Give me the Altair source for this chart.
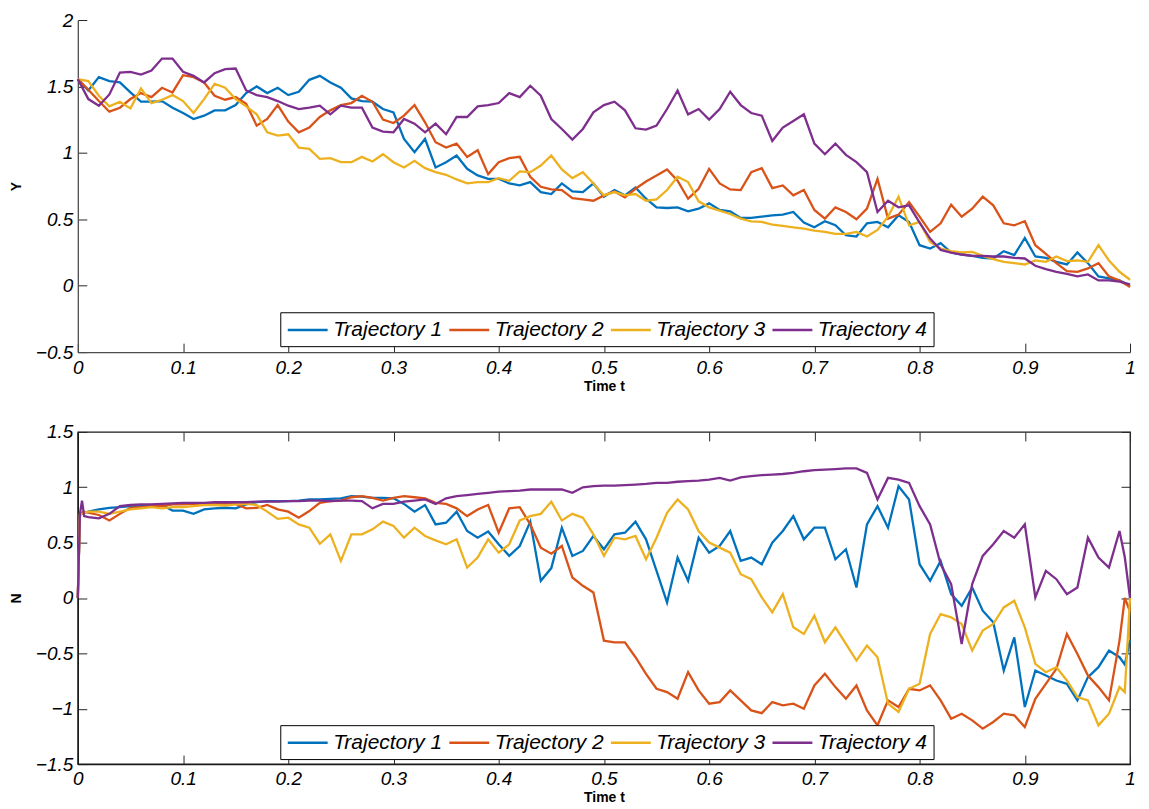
import altair as alt
import pandas as pd

NAMES = ["Trajectory 1", "Trajectory 2", "Trajectory 3", "Trajectory 4"]
COLORS = ["#0072BD", "#D95319", "#EDB120", "#7E2F8E"]
X_TICKS = [0, 0.1, 0.2, 0.3, 0.4, 0.5, 0.6, 0.7, 0.8, 0.9, 1]
Y_TICKS = [-0.5, 0, 0.5, 1, 1.5, 2]
N_TICKS = [-1.5, -1, -0.5, 0, 0.5, 1, 1.5]

# time samples (top panel)
T_TOP = [i / 100 for i in range(101)]

Y1 = [1.555, 1.47, 1.57, 1.54, 1.53, 1.455, 1.385, 1.385, 1.39, 1.34,
      1.30, 1.255, 1.28, 1.32, 1.32, 1.36, 1.45, 1.50, 1.45, 1.49,
      1.435, 1.46, 1.55, 1.58, 1.53, 1.49, 1.41, 1.39, 1.385, 1.33,
      1.305, 1.105, 1.005, 1.105, 0.89, 0.93, 0.98, 0.88, 0.83, 0.805,
      0.805, 0.77, 0.755, 0.78, 0.705, 0.69, 0.77, 0.71, 0.705, 0.77,
      0.67, 0.72, 0.68, 0.74, 0.655, 0.59, 0.585, 0.59, 0.56, 0.58,
      0.62, 0.57, 0.56, 0.51, 0.51, 0.52, 0.53, 0.535, 0.555, 0.475,
      0.44, 0.485, 0.455, 0.38, 0.37, 0.47, 0.48, 0.44, 0.53, 0.48,
      0.305, 0.28, 0.32, 0.25, 0.235, 0.225, 0.21, 0.205, 0.26, 0.23,
      0.36, 0.22, 0.21, 0.18, 0.16, 0.25, 0.17, 0.07, 0.055, 0.04,
      0.0]
Y2 = [1.555, 1.475, 1.39, 1.31, 1.34, 1.405, 1.45, 1.42, 1.49, 1.455,
      1.585, 1.57, 1.53, 1.43, 1.40, 1.42, 1.37, 1.205, 1.255, 1.36,
      1.235, 1.155, 1.19, 1.27, 1.32, 1.36, 1.375, 1.43, 1.385, 1.25,
      1.225, 1.28, 1.36, 1.23, 1.08, 1.04, 1.07, 0.97, 1.02, 0.84,
      0.93, 0.96, 0.97, 0.82, 0.745, 0.725, 0.72, 0.66, 0.65, 0.64,
      0.68, 0.71, 0.665, 0.73, 0.785, 0.83, 0.875, 0.79, 0.655, 0.73,
      0.88, 0.77, 0.725, 0.72, 0.855, 0.885, 0.735, 0.755, 0.68, 0.72,
      0.57, 0.505, 0.59, 0.555, 0.50, 0.58, 0.805, 0.505, 0.535, 0.63,
      0.52, 0.405, 0.47, 0.61, 0.52, 0.58, 0.67, 0.605, 0.47, 0.455,
      0.485, 0.305, 0.24, 0.17, 0.11, 0.105, 0.13, 0.17, 0.07, 0.04,
      -0.01]
Y3 = [1.555, 1.54, 1.43, 1.35, 1.385, 1.335, 1.485, 1.375, 1.40, 1.435,
      1.39, 1.30, 1.405, 1.52, 1.49, 1.405, 1.35, 1.29, 1.155, 1.13,
      1.14, 1.04, 1.03, 0.955, 0.96, 0.93, 0.93, 0.97, 0.935, 0.99,
      0.93, 0.89, 0.94, 0.885, 0.855, 0.835, 0.80, 0.77, 0.78, 0.78,
      0.81, 0.79, 0.86, 0.855, 0.905, 0.98, 0.875, 0.81, 0.855, 0.77,
      0.68, 0.705, 0.68, 0.69, 0.64, 0.65, 0.72, 0.82, 0.78, 0.635,
      0.59, 0.565, 0.54, 0.505, 0.485, 0.48, 0.46, 0.45, 0.44, 0.43,
      0.415, 0.405, 0.39, 0.39, 0.405, 0.37, 0.42, 0.52, 0.67, 0.455,
      0.48, 0.33, 0.28, 0.26, 0.25, 0.255, 0.225, 0.20, 0.18, 0.17,
      0.16, 0.19, 0.18, 0.22, 0.185, 0.19, 0.18, 0.305, 0.19, 0.105,
      0.045]
Y4 = [1.555, 1.405, 1.355, 1.44, 1.605, 1.61, 1.59, 1.62, 1.71, 1.71,
      1.61, 1.58, 1.53, 1.60, 1.63, 1.635, 1.47, 1.435, 1.42, 1.39,
      1.355, 1.33, 1.34, 1.355, 1.29, 1.355, 1.34, 1.34, 1.19, 1.16,
      1.155, 1.255, 1.22, 1.155, 1.22, 1.14, 1.27, 1.27, 1.35, 1.36,
      1.375, 1.45, 1.42, 1.505, 1.43, 1.255, 1.18, 1.10, 1.18, 1.305,
      1.36, 1.385, 1.32, 1.185, 1.175, 1.205, 1.33, 1.47, 1.29, 1.33,
      1.25, 1.33, 1.46, 1.36, 1.30, 1.28, 1.09, 1.19, 1.24, 1.29,
      1.07, 0.99, 1.07, 0.985, 0.93, 0.855, 0.555, 0.64, 0.59, 0.605,
      0.475, 0.355, 0.27, 0.25, 0.235, 0.225, 0.225, 0.22, 0.22, 0.21,
      0.205, 0.15, 0.125, 0.105, 0.09, 0.07, 0.085, 0.04, 0.04, 0.03,
      0.01]

# time samples (bottom panel)
T_BOT = [0, 0.002, 0.004, 0.006] + [i / 100 for i in range(1, 100)] + [0.995, 1.0]

N1 = [0, 0.75, 0.76, 0.77,
      0.78, 0.80, 0.815, 0.82, 0.83, 0.835, 0.84, 0.84, 0.79,
      0.79, 0.76, 0.80, 0.81, 0.815, 0.81, 0.845, 0.865, 0.875, 0.875,
      0.875, 0.88, 0.89, 0.89, 0.895, 0.90, 0.92, 0.915, 0.905, 0.905,
      0.90, 0.85, 0.78, 0.84, 0.665, 0.68, 0.78, 0.605, 0.545, 0.60,
      0.485, 0.38, 0.47, 0.69, 0.155, 0.27, 0.635, 0.38, 0.425, 0.56,
      0.44, 0.575, 0.59, 0.69, 0.53, 0.245, -0.04, 0.365, 0.155, 0.545,
      0.41, 0.47, 0.605, 0.335, 0.365, 0.305, 0.50, 0.605, 0.74, 0.53,
      0.635, 0.635, 0.35, 0.44, 0.095, 0.665, 0.83, 0.635, 1.01, 0.89,
      0.305, 0.155, 0.335, 0.035, -0.07, 0.095, -0.115, -0.22, -0.655, -0.355,
      -0.985, -0.655, -0.70, -0.745, -0.775, -0.925, -0.715, -0.625, -0.475, -0.535,
      -0.6, -0.385]
N2 = [0, 0.75, 0.77, 0.78,
      0.77, 0.75, 0.70, 0.76, 0.815, 0.82, 0.83, 0.83, 0.845,
      0.845, 0.85, 0.845, 0.85, 0.855, 0.85, 0.81, 0.815, 0.84, 0.80,
      0.78, 0.725, 0.785, 0.86, 0.875, 0.88, 0.91, 0.92, 0.905, 0.88,
      0.905, 0.92, 0.91, 0.90, 0.86, 0.85, 0.81, 0.74, 0.80, 0.84,
      0.59, 0.81, 0.82, 0.665, 0.455, 0.40, 0.47, 0.185, 0.11, 0.05,
      -0.385, -0.40, -0.40, -0.535, -0.685, -0.82, -0.85, -0.91, -0.67, -0.835,
      -0.955, -0.94, -0.835, -0.925, -1.015, -1.04, -0.94, -0.97, -0.955, -1.0,
      -0.79, -0.685, -0.805, -0.91, -0.79, -1.015, -1.15, -0.925, -0.985, -0.82,
      -0.835, -0.79, -0.925, -1.09, -1.045, -1.105, -1.18, -1.12, -1.045, -1.06,
      -1.165, -0.91, -0.775, -0.64, -0.325, -0.505, -0.70, -0.805, -0.925, -0.385,
      0.0, -0.12]
N3 = [0, 0.76, 0.76, 0.77,
      0.78, 0.78, 0.76, 0.78, 0.80, 0.81, 0.82, 0.81, 0.82,
      0.82, 0.83, 0.84, 0.84, 0.835, 0.845, 0.85, 0.84, 0.78, 0.715,
      0.725, 0.665, 0.635, 0.49, 0.575, 0.335, 0.575, 0.575, 0.62, 0.69,
      0.65, 0.545, 0.635, 0.56, 0.52, 0.485, 0.53, 0.275, 0.365, 0.53,
      0.41, 0.485, 0.70, 0.74, 0.76, 0.87, 0.70, 0.76, 0.725, 0.575,
      0.38, 0.545, 0.53, 0.56, 0.35, 0.545, 0.77, 0.89, 0.80, 0.605,
      0.50, 0.455, 0.41, 0.215, 0.17, 0.005, -0.13, 0.035, -0.265, -0.325,
      -0.16, -0.40, -0.265, -0.415, -0.565, -0.43, -0.535, -0.955, -1.03, -0.82,
      -0.775, -0.325, -0.145, -0.175, -0.235, -0.475, -0.295, -0.235, -0.085, -0.025,
      -0.265, -0.595, -0.67, -0.625, -0.745, -0.895, -0.925, -1.15, -1.045, -0.805,
      -0.85, 0.0]
N4 = [0, 0.76, 0.88, 0.74,
      0.73, 0.72, 0.76, 0.83, 0.84, 0.845, 0.845, 0.85, 0.855,
      0.86, 0.86, 0.86, 0.865, 0.865, 0.865, 0.865, 0.87, 0.87, 0.87,
      0.875, 0.875, 0.88, 0.88, 0.875, 0.88, 0.88, 0.875, 0.81, 0.85,
      0.85, 0.87, 0.88, 0.89, 0.85, 0.90, 0.92, 0.93, 0.94, 0.95,
      0.96, 0.965, 0.97, 0.98, 0.98, 0.98, 0.98, 0.95, 1.0, 1.01,
      1.015, 1.015, 1.02, 1.025, 1.03, 1.04, 1.04, 1.05, 1.055, 1.06,
      1.07, 1.085, 1.06, 1.09, 1.10, 1.11, 1.115, 1.12, 1.13, 1.145,
      1.155, 1.16, 1.165, 1.17, 1.17, 1.13, 0.89, 1.085, 1.07, 1.04,
      0.83, 0.665, 0.305, 0.125, -0.415, 0.125, 0.38, 0.485, 0.605, 0.545,
      0.665, 0.005, 0.245, 0.17, 0.035, 0.095, 0.545, 0.365, 0.275, 0.605,
      0.37, 0.0]


def to_long(t, series):
    rows = []
    for name, vals in zip(NAMES, series):
        n = min(len(t), len(vals))
        for i in range(n):
            rows.append({"t": t[i], "v": vals[i], "series": name})
    return pd.DataFrame(rows)


df_top = to_long(T_TOP, [Y1, Y2, Y3, Y4])
df_bot = to_long(T_BOT, [N1, N2, N3, N4])

W, H = 1055, 333
FONT = "Liberation Sans"
TICK = 9


def panel(df, ytitle, ydomain, yticks, boxed, legend_y):
    if boxed:
        x_dash = [TICK, H - 2 * TICK, TICK, 5000]
        y_dash = [TICK, W - 2 * TICK, TICK, 5000]
    else:
        x_dash = [0, H - TICK, TICK, 5000]
        y_dash = [TICK, 5000]
    common = dict(
        format=".1~f", grid=True, gridColor="#262626", gridWidth=1, gridOpacity=1,
        ticks=False, domain=True, domainColor="#4d4d4d" if not boxed else "#1a1a1a",
        domainWidth=1.3, labelFlush=False, labelOverlap=False,
        labelFont=FONT, labelFontStyle="italic", labelFontSize=19, labelColor="black",
        titleFont=FONT, titleFontWeight="bold", titleFontSize=14, titleColor="black",
    )
    x_axis = alt.Axis(values=X_TICKS, title="Time t", gridDash=x_dash,
                      labelPadding=6, titlePadding=2, **common)
    y_axis = alt.Axis(values=yticks, title=ytitle, gridDash=y_dash,
                      labelPadding=5, titlePadding=12, **common)
    legend = alt.Legend(
        title=None, orient="none", legendX=203, legendY=legend_y,
        direction="horizontal", columns=4,
        symbolType="M-2,0H2", symbolSize=400, symbolStrokeWidth=2.5,
        symbolOffset=10, labelOffset=14,
        labelFont=FONT, labelFontStyle="italic", labelFontSize=21, labelColor="black",
        strokeColor="black", fillColor="white", padding=6, columnPadding=1,
        cornerRadius=0,
    )
    view = alt.ViewBackground(stroke="#1a1a1a", strokeWidth=1.3) if boxed else \
        alt.ViewBackground(stroke="transparent")
    return alt.Chart(df).mark_line(strokeWidth=2.3).encode(
        x=alt.X("t:Q", scale=alt.Scale(domain=[0, 1], nice=False, zero=False), axis=x_axis),
        y=alt.Y("v:Q", scale=alt.Scale(domain=ydomain, nice=False, zero=False), axis=y_axis),
        color=alt.Color("series:N", scale=alt.Scale(domain=NAMES, range=COLORS), legend=legend),
        order=alt.Order("t:Q"),
    ).properties(width=W, height=H, view=view)


top = panel(df_top, "Y", [-0.5, 2], Y_TICKS, False, 293)
bot = panel(df_bot, "N", [-1.5, 1.5], N_TICKS, True, 294)

chart = alt.vconcat(top, bot, spacing=28).resolve_legend(color="independent").properties(
    padding={"left": 0, "top": 1, "right": 5, "bottom": 0},
    background="white",
)

chart.save("out.html", embed_options={"renderer": "svg", "actions": False})
